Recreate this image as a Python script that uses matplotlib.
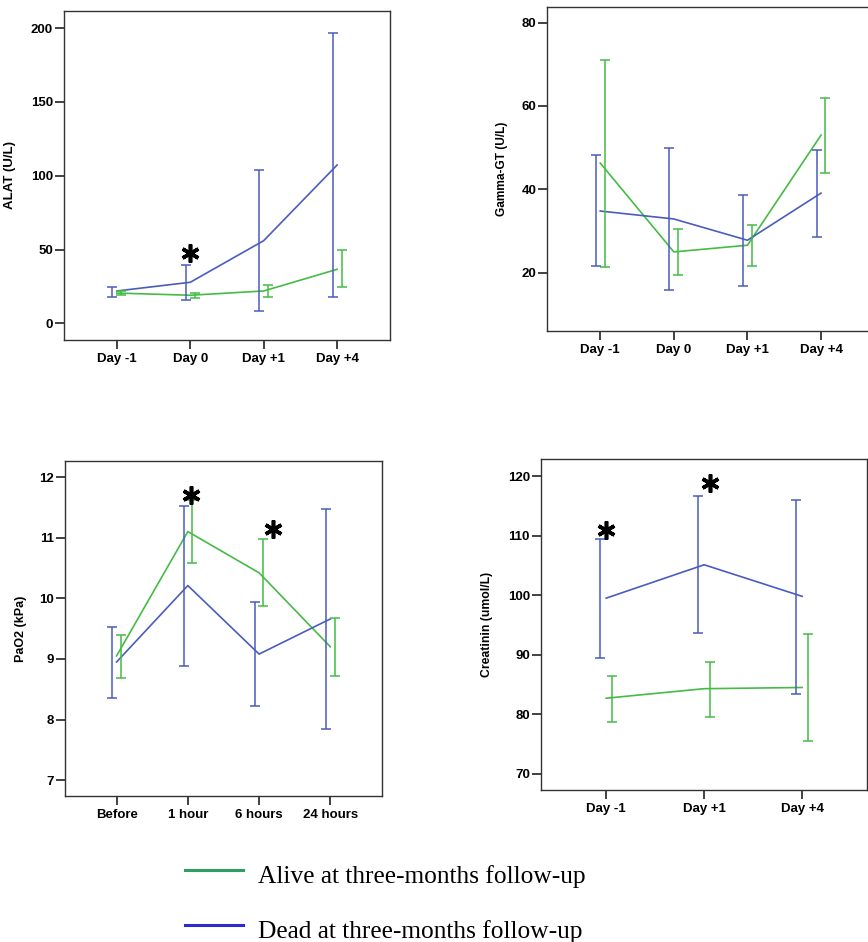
import numpy as np
import matplotlib
matplotlib.use('Agg')
import matplotlib.pyplot as plt
from matplotlib.lines import Line2D

plt.rcParams['font.family'] = ['Liberation Sans', 'DejaVu Sans']

GREEN = '#45bb45'
BLUE = '#4a5cbd'

# ALAT (U/L)
alat_days = ['Day -1', 'Day 0', 'Day +1', 'Day +4']
alat_alive = [20.5, 19.0, 21.9, 36.6]
alat_alive_lo = [19.4, 17.2, 17.6, 24.4]
alat_alive_hi = [21.9, 20.3, 25.8, 49.5]
alat_dead = [21.9, 27.8, 56.0, 107.3]
alat_dead_lo = [17.6, 16.0, 8.3, 17.6]
alat_dead_hi = [24.4, 39.7, 103.7, 196.8]
alat_stars = [(1.0, 47.7)]

# Gamma-GT (U/L)
ggt_days = ['Day -1', 'Day 0', 'Day +1', 'Day +4']
ggt_alive = [46.3, 25.0, 26.6, 53.0]
ggt_alive_lo = [21.4, 19.4, 21.6, 43.9]
ggt_alive_hi = [71.1, 30.5, 31.5, 62.0]
ggt_dead = [34.8, 32.9, 27.8, 39.1]
ggt_dead_lo = [21.6, 15.8, 16.9, 28.6]
ggt_dead_hi = [48.2, 49.8, 38.7, 49.5]

# PaO2 (kPa)
pao2_times = ['Before', '1 hour', '6 hours', '24 hours']
pao2_alive = [9.05, 11.10, 10.42, 9.20]
pao2_alive_lo = [8.68, 10.58, 9.88, 8.72]
pao2_alive_hi = [9.40, 11.62, 10.97, 9.67]
pao2_dead = [8.95, 10.21, 9.08, 9.66]
pao2_dead_lo = [8.36, 8.88, 8.22, 7.84]
pao2_dead_hi = [9.52, 11.52, 9.94, 11.47]
pao2_stars = [(1.04, 11.70), (2.19, 11.14)]

# Creatinin (umol/L)
crea_days = ['Day -1', 'Day +1', 'Day +4']
crea_alive = [82.7, 84.3, 84.5]
crea_alive_lo = [78.7, 79.6, 75.6]
crea_alive_hi = [86.4, 88.8, 93.5]
crea_dead = [99.5, 105.1, 99.8]
crea_dead_lo = [89.5, 93.6, 83.4]
crea_dead_hi = [109.4, 116.6, 116.0]
crea_stars = [(0.0, 111.0), (1.06, 118.8)]


def panel(ax, cats, alive, alive_lo, alive_hi, dead, dead_lo, dead_hi,
          ylabel, ylim, yticks, label_x, label_size=9, stars=()):
    x = np.arange(len(cats))
    off = 0.06
    ax.plot(x, alive, color=GREEN, lw=1.2)
    ax.plot(x, dead, color=BLUE, lw=1.2)
    a = np.array(alive)
    d = np.array(dead)
    ax.errorbar(x + off, a, yerr=[a - np.array(alive_lo), np.array(alive_hi) - a],
                fmt='none', ecolor=GREEN, elinewidth=1.1, capsize=3.8, capthick=1.1)
    ax.errorbar(x - off, d, yerr=[d - np.array(dead_lo), np.array(dead_hi) - d],
                fmt='none', ecolor=BLUE, elinewidth=1.1, capsize=3.8, capthick=1.1)
    for sx, sy in stars:
        ax.plot(sx, sy, marker=(6, 2, 0), ms=13, mew=2.6, color='black',
                linestyle='none')
    pad = 0.72 if len(cats) == 4 else 0.665
    ax.set_xlim(-pad, len(cats) - 1 + pad)
    ax.set_ylim(*ylim)
    ax.set_xticks(x)
    ax.set_xticklabels(cats, fontsize=9.5, fontweight='bold')
    ax.set_yticks(yticks)
    ax.set_yticklabels([str(t) for t in yticks], fontsize=9.5, fontweight='bold')
    ax.tick_params(axis='both', length=6.5, width=1.3, color='#333333')
    ax.tick_params(axis='y', pad=1.5)
    ax.tick_params(axis='x', pad=3)
    ax.set_ylabel(ylabel, fontsize=label_size, fontweight='bold')
    ax.yaxis.set_label_coords(label_x, 0.5)
    for s in ax.spines.values():
        s.set_color('#333333')
        s.set_linewidth(1.0)


fig = plt.figure(figsize=(8.68, 9.42), dpi=100)

ax1 = fig.add_axes([0.0737, 0.6391, 0.3756, 0.3493])
panel(ax1, alat_days, alat_alive, alat_alive_lo, alat_alive_hi,
      alat_dead, alat_dead_lo, alat_dead_hi, 'ALAT (U/L)', (-11.3, 211.7),
      [0, 50, 100, 150, 200], -0.148, label_size=9.5, stars=alat_stars)

ax2 = fig.add_axes([0.6305, 0.6489, 0.3764, 0.344])
panel(ax2, ggt_days, ggt_alive, ggt_alive_lo, ggt_alive_hi,
      ggt_dead, ggt_dead_lo, ggt_dead_hi, 'Gamma-GT (U/L)', (6.1, 83.8),
      [20, 40, 60, 80], -0.12, label_size=8.6)

ax3 = fig.add_axes([0.0752, 0.155, 0.3645, 0.356])
panel(ax3, pao2_times, pao2_alive, pao2_alive_lo, pao2_alive_hi,
      pao2_dead, pao2_dead_lo, pao2_dead_hi, 'PaO2 (kPa)', (6.74, 12.27),
      [7, 8, 9, 10, 11, 12], -0.122, label_size=9, stars=pao2_stars)

ax4 = fig.add_axes([0.6233, 0.1614, 0.3759, 0.351])
panel(ax4, crea_days, crea_alive, crea_alive_lo, crea_alive_hi,
      crea_dead, crea_dead_lo, crea_dead_hi, 'Creatinin (umol/L)', (67.3, 122.8),
      [70, 80, 90, 100, 110, 120], -0.147, label_size=8.8, stars=crea_stars)

# legend drawn below the panels
legend_items = [('Alive at three-months follow-up', '#2e9e62'),
                ('Dead at three-months follow-up', '#2b2bd0')]
for i, (txt, col) in enumerate(legend_items):
    y = 1 - (870 + 55 * i) / 942
    fig.add_artist(Line2D([185 / 868, 243 / 868], [y, y], color=col, lw=2.2,
                          transform=fig.transFigure))
    fig.text(258 / 868, y - 7 / 942, txt, fontsize=18.3, family='Liberation Serif',
             va='center', ha='left')

fig.savefig('out.png', dpi=100)
